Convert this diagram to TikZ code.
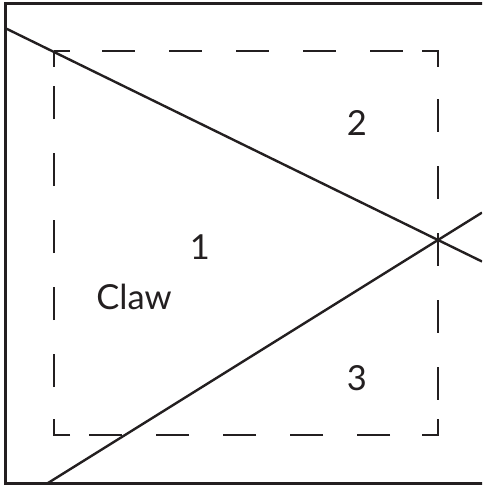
\documentclass[tikz,border=0pt]{standalone}
\usepackage{fontspec}
\setmainfont{Lato}
\definecolor{ink}{HTML}{231F20}
\tikzset{
  frame/.style={draw=ink, line width=3pt},
  cut/.style={draw=ink, line width=2.4pt},
  claybox/.style={draw=ink, line width=2.4pt,
    dash pattern=on 32 off 32 on 33 off 34 on 33 off 34 on 33 off 34 on 33 off 34 on 33 off 19,
    dash phase=16},
  lbl/.style={text=ink, anchor=base, inner sep=0pt, font=\fontsize{34.5}{40}\selectfont}
}
\begin{document}
\begin{tikzpicture}[x=1pt,y=-1pt]
\useasboundingbox (0,0) rectangle (482,487);
\clip (0,0) rectangle (482,487);
% outer frame (right side cut off)
\draw[frame] (5,4) rectangle (495,483);
% dashed box
\coordinate (tl) at (54,51);
\coordinate (tr) at (438,51);
\coordinate (br) at (438,435);
\coordinate (bl) at (54,435);
\draw[claybox] (tl) -- (tr) -- (br) -- (bl) -- cycle;
% crossing lines
\coordinate (x) at (438,240);
\coordinate (a1) at (5,28);
\coordinate (a2) at (482,261.5);
\coordinate (b1) at (48,483);
\coordinate (b2) at (482,212.6);
\draw[cut] (a1) -- (x) -- (a2);
\draw[cut] (b1) -- (x) -- (b2);
% labels
\node[lbl] (one) at (200,259) {1};
\node[lbl] (two) at (357,135) {2};
\node[lbl] (three) at (357,390) {3};
\node[lbl] (claw) at (134,309) {Claw};
\end{tikzpicture}
\end{document}
